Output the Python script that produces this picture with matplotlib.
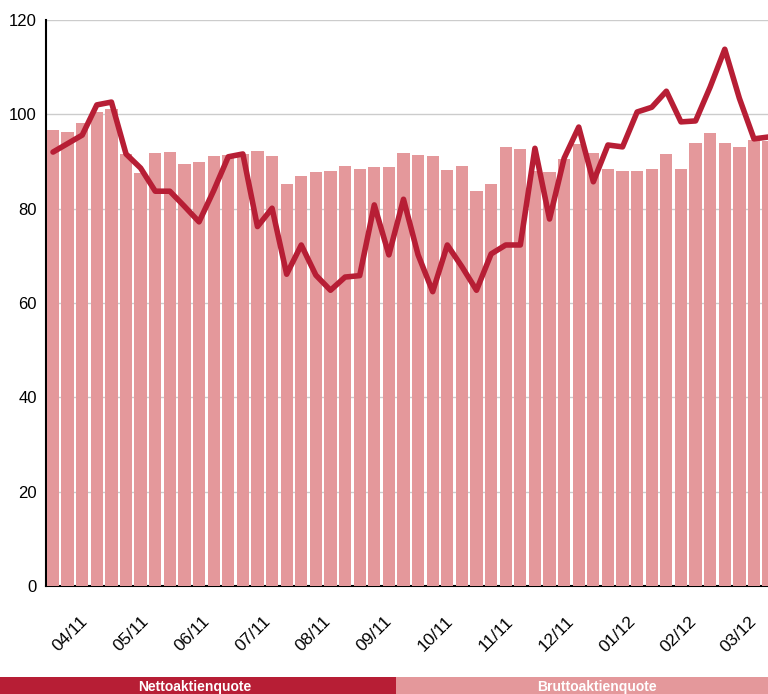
import matplotlib
matplotlib.use("Agg")
import matplotlib.pyplot as plt
import numpy as np

# Bruttoaktienquote (Balken) und Nettoaktienquote (Linie), wöchentlich
brutto = [96.7, 96.2, 98.2, 100.5, 101.1, 91.6, 87.6, 91.8, 92.0, 89.5,
          89.9, 91.2, 91.4, 91.6, 92.2, 91.2, 85.2, 86.9, 87.8, 88.0,
          89.0, 88.4, 88.8, 88.8, 91.8, 91.4, 91.2, 88.2, 89.0, 83.7,
          85.2, 93.1, 92.6, 88.0, 87.8, 90.5, 93.7, 91.8, 88.4, 88.0,
          88.0, 88.4, 91.6, 88.4, 93.9, 96.0, 93.9, 93.1, 94.6, 94.3]
netto = [92.0, 93.8, 95.6, 102.0, 102.6, 91.6, 88.6, 83.7, 83.7, 80.5,
         77.2, 83.8, 91.0, 91.6, 76.2, 80.1, 66.1, 72.3, 65.9, 62.7,
         65.5, 65.8, 80.8, 70.2, 82.0, 70.2, 62.4, 72.3, 67.7, 62.7,
         70.4, 72.3, 72.3, 92.8, 77.8, 90.7, 97.3, 85.7, 93.5, 93.1,
         100.5, 101.5, 104.9, 98.4, 98.6, 105.8, 113.8, 103.4, 94.8, 95.2]
month_labels = ["04/11", "05/11", "06/11", "07/11", "08/11", "09/11",
                "10/11", "11/11", "12/11", "01/12", "02/12", "03/12"]

dark_red = "#b71e35"
pink = "#e4989b"

plt.rcParams["font.family"] = ["Liberation Sans", "DejaVu Sans"]

fig = plt.figure(figsize=(7.68, 6.94), dpi=100)
W, H = 768, 694
ax = fig.add_axes([46 / W, 1 - 586 / H, 1 - 46 / W, (586 - 20) / H])

x = np.arange(len(brutto))
ax.bar(x, brutto, width=0.84, color=pink, zorder=3)
ax.plot(x, netto, color=dark_red, linewidth=4, solid_joinstyle="round",
        solid_capstyle="round", zorder=4)

ax.set_xlim(-0.48, 48.96)
ax.set_ylim(0, 120)
ax.set_yticks(range(0, 121, 20))
ax.grid(axis="y", color="#cccccc", linewidth=1, zorder=0)
ax.set_axisbelow(True)

# Monatsbeschriftung
tick_pos = 1.85 + np.arange(len(month_labels)) * 4.165
ax.set_xticks(tick_pos)
ax.set_xticklabels(month_labels)
for lab in ax.get_xticklabels():
    lab.set_rotation(45)
    lab.set_ha("right")
    lab.set_va("top")
    lab.set_rotation_mode("anchor")
ax.tick_params(axis="x", length=0, pad=20, labelsize=12.5)
ax.tick_params(axis="y", length=0, pad=6.5, labelsize=12)

for side in ["top", "right"]:
    ax.spines[side].set_visible(False)
ax.spines["left"].set_color("black")
ax.spines["left"].set_linewidth(1.5)
ax.spines["bottom"].set_color("black")
ax.spines["bottom"].set_linewidth(1.5)
ax.spines["bottom"].set_zorder(2)

# Legende unten als Farbbalken
leg1 = fig.add_axes([0, 0, 396 / W, 17 / H])
leg1.set_facecolor(dark_red)
leg1.set_xticks([])
leg1.set_yticks([])
for s in leg1.spines.values():
    s.set_visible(False)
leg2 = fig.add_axes([396 / W, 0, 1 - 396 / W, 17 / H])
leg2.set_facecolor(pink)
leg2.set_xticks([])
leg2.set_yticks([])
for s in leg2.spines.values():
    s.set_visible(False)

fig.text(195 / W, 2.5 / H, "Nettoaktienquote", color="white",
         fontsize=10, fontweight="bold", ha="center", va="baseline")
fig.text(597 / W, 2.5 / H, "Bruttoaktienquote", color="white",
         fontsize=10, fontweight="bold", ha="center", va="baseline")

fig.savefig("out.png", dpi=100)
plt.close(fig)
